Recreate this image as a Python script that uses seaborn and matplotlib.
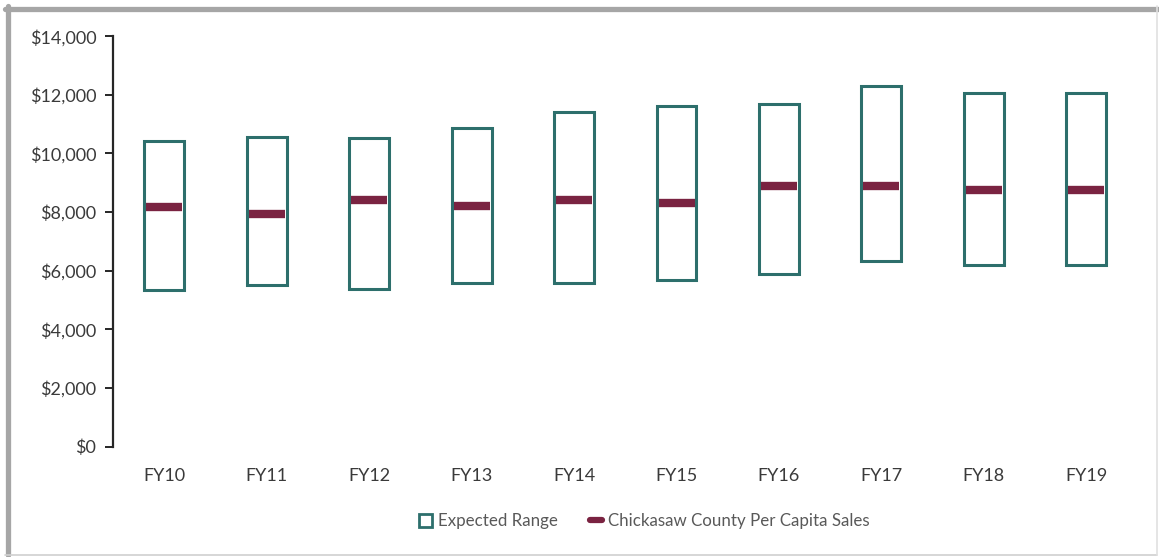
import matplotlib
matplotlib.use("Agg")
import matplotlib.pyplot as plt
import seaborn as sns
import pandas as pd
from matplotlib.patches import Patch
from matplotlib.lines import Line2D
from matplotlib.ticker import FuncFormatter

years = ['FY10', 'FY11', 'FY12', 'FY13', 'FY14', 'FY15', 'FY16', 'FY17', 'FY18', 'FY19']
range_low = [5360, 5500, 5390, 5590, 5590, 5670, 5900, 6340, 6200, 6200]
range_high = [10420, 10560, 10530, 10860, 11400, 11610, 11700, 12290, 12070, 12070]
per_capita = [8190, 7920, 8430, 8195, 8415, 8300, 8880, 8880, 8760, 8760]

teal = '#2D6F6C'
maroon = '#7A2341'

df = pd.DataFrame({'year': years, 'low': range_low, 'high': range_high, 'sales': per_capita})
df['span'] = df['high'] - df['low']

sns.set_style('white')
plt.rcParams['font.family'] = ['Lato', 'DejaVu Sans']

fig = plt.figure(figsize=(11.59, 5.57), dpi=100)
ax = fig.add_axes([0.0975, 0.198, 0.884, 0.737])

# expected range boxes
sns.barplot(data=df, x='year', y='span', bottom=list(range_low), width=0.39,
            color='white', edgecolor=teal, linewidth=2.2, saturation=1, ax=ax)

# per capita marker
sns.scatterplot(data=df, x='year', y='sales', marker='_', s=700, linewidth=6,
                color=maroon, ax=ax, zorder=5)

ax.set_ylim(0, 14000)
ax.set_xlim(-0.5, 9.5)
ax.set_yticks(range(0, 14001, 2000))
ax.yaxis.set_major_formatter(FuncFormatter(lambda v, p: '${:,.0f}'.format(v)))
ax.set_xlabel('')
ax.set_ylabel('')

for s in ['top', 'right', 'bottom']:
    ax.spines[s].set_visible(False)
ax.spines['left'].set_color('#262626')
ax.spines['left'].set_linewidth(1.6)
ax.tick_params(axis='y', left=True, length=6, width=1.4, color='#262626',
               labelsize=13, labelcolor='#3A3A3A', pad=6)
ax.tick_params(axis='x', bottom=False, labelsize=13, labelcolor='#3A3A3A', pad=12)

handles = [Patch(facecolor='white', edgecolor=teal, linewidth=2.0, label='Expected Range'),
           Line2D([0], [0], color=maroon, linewidth=4.5, label='Chickasaw County Per Capita Sales')]
fig.legend(handles=handles, loc='center', bbox_to_anchor=(0.556, 0.064), ncol=2, frameon=False,
           fontsize=12.2, labelcolor='#595959', handlelength=0.75, handleheight=0.8,
           handletextpad=0.35, columnspacing=1.9)

# outer frame
fig.add_artist(Line2D([5 / 1159, 1159 / 1159], [1 - 8.5 / 557] * 2, color='#A6A6A6', linewidth=3.8))
fig.add_artist(Line2D([7.5 / 1159] * 2, [1 - 555 / 557, 1 - 6 / 557], color='#A6A6A6', linewidth=3.8))
fig.add_artist(Line2D([5 / 1159, 1157 / 1159], [1 - 555 / 557] * 2, color='#D0D0D0', linewidth=1.2))
fig.add_artist(Line2D([1157 / 1159] * 2, [1 - 555 / 557, 1 - 6 / 557], color='#E0E0E0', linewidth=1.2))

fig.savefig('out.png', dpi=100)
